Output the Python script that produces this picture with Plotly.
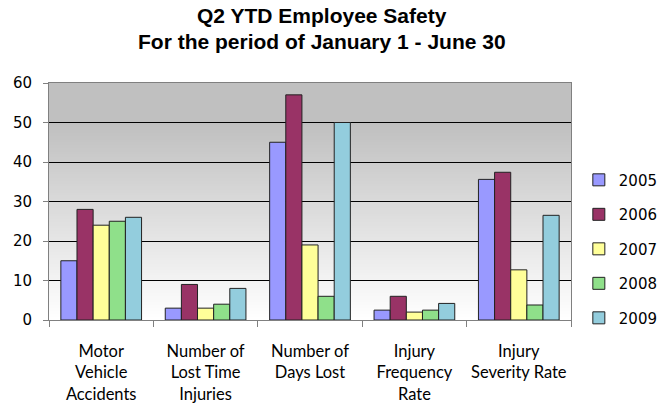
import plotly.graph_objects as go

categories = ["Motor<br>Vehicle<br>Accidents", "Number of<br>Lost Time<br>Injuries",
              "Number of<br>Days Lost", "Injury<br>Frequency<br>Rate", "Injury<br>Severity Rate"]
years = ["2005", "2006", "2007", "2008", "2009"]
v2005 = [15, 3, 45, 2.5, 35.6]
v2006 = [28, 9, 57, 6, 37.4]
v2007 = [24, 3, 19, 2, 12.7]
v2008 = [25, 4, 6, 2.5, 3.8]
v2009 = [26, 8, 50, 4.2, 26.5]
series = [v2005, v2006, v2007, v2008, v2009]
colors = ["#9999FF", "#993366", "#FFFF99", "#8FE08A", "#93CDDD"]
title_lines = ["Q2 YTD Employee Safety", "For the period of January 1 - June 30"]

fig = go.Figure()
for i, (yr, vals) in enumerate(zip(years, series)):
    fig.add_trace(go.Bar(x=categories, y=vals, name=yr, legendgroup=yr,
                         marker=dict(color=colors[i], line=dict(color="#222222", width=1))))

# gradient background for plot area
n = 80
shapes = []
for k in range(n):
    t = k / (n - 1)  # 0 bottom -> 1 top
    f = min(1.0, t / 0.83)
    c = int(round(255 - (255 - 192) * f))
    shapes.append(dict(type="rect", xref="x domain", yref="y domain",
                       x0=0, x1=1, y0=k / n, y1=min(1.0, (k + 2) / n),
                       fillcolor=f"rgb({c},{c},{c})", line=dict(width=0), layer="below"))

annotations = [
    dict(text=f"<b>{title_lines[0]}</b>", xref="paper", yref="paper", x=0.523, y=1.285,
         xanchor="center", yanchor="middle", showarrow=False,
         font=dict(family="Liberation Sans, Arial", size=21, color="black")),
    dict(text=f"<b>{title_lines[1]}</b>", xref="paper", yref="paper", x=0.523, y=1.177,
         xanchor="center", yanchor="middle", showarrow=False,
         font=dict(family="Liberation Sans, Arial", size=21, color="black")),
]

fig.update_layout(
    width=659, height=407,
    margin=dict(l=49, r=88, t=83, b=87, autoexpand=False),
    paper_bgcolor="white", plot_bgcolor="white",
    shapes=shapes, annotations=annotations,
    barmode="group", bargap=0.227, bargroupgap=0,
    legend=dict(x=1.015, xanchor="left", y=0.66, yanchor="top",
                font=dict(family="DejaVu Sans", size=15, color="black"),
                tracegroupgap=12, itemwidth=30, bgcolor="rgba(0,0,0,0)"),
    showlegend=True,
)
fig.update_yaxes(range=[0, 60], dtick=10, showgrid=True, gridcolor="#000000", gridwidth=1,
                 ticks="outside", ticklen=5, tickcolor="#808080", automargin=False,
                 ticklabelstandoff=8,
                 showline=True, linecolor="#808080", linewidth=1, mirror=True,
                 tickfont=dict(family="DejaVu Sans", size=15, color="black"), zeroline=False)
fig.update_xaxes(ticks="outside", tickson="boundaries", ticklen=6, tickcolor="#808080",
                 automargin=False, ticklabelstandoff=16, tickangle=0,
                 showline=True, linecolor="#808080", linewidth=1, mirror=True,
                 tickfont=dict(family="Lato", size=16.5, color="black"))

fig.write_html("out.html", config={"displayModeBar": False},
               post_script="document.body.style.margin='0';document.body.style.overflow='hidden';")
